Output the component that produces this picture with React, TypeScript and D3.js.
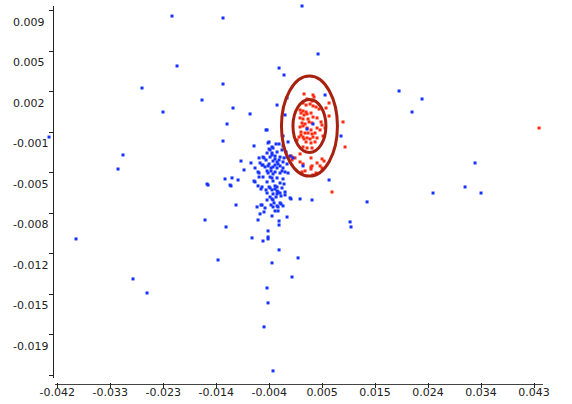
import React, { useEffect, useRef } from "react";
import * as d3 from "d3";

// tick values and labels
const xTickValues = [-0.0423, -0.03282, -0.02334, -0.01386, -0.00438, 0.0051, 0.01458, 0.02406, 0.03354, 0.04302];
const xTickLabels = ["-0.042", "-0.033", "-0.023", "-0.014", "-0.004", "0.005", "0.015", "0.024", "0.034", "0.043"];
const yTickValues = [0.0092, 0.00565, 0.0021, -0.00145, -0.005, -0.00855, -0.0121, -0.01565, -0.0192, -0.02275];
const yTickLabels = ["0.009", "0.005", "0.002", "-0.001", "-0.005", "-0.008", "-0.012", "-0.015", "-0.019", ""];

// blue sample
const bluePoints: [number, number][] = [
  [-0.02177, 0.00867], [-0.01264, 0.0085], [-0.02087, 0.0043], [-0.02714, 0.00237], [-0.02338, 0.00027],
  [-0.01264, 0.00272], [-0.0164, 0.00132], [-0.01085, 0.00062], [-0.0078, 0.0001], [-0.01192, -0.00078],
  [-0.01264, -0.00227], [-0.00494, -0.0013], [-0.00261, 0.00412], [-0.00172, 0.00351], [-0.00118, 0.0015],
  [-0.00297, 0.00088], [-0.00154, 0.00001], [-0.04378, -0.00192], [-0.03054, -0.00349], [-0.03143, -0.00472],
  [-0.0155, -0.00603], [-0.01228, -0.00559], [-0.01103, -0.0055], [-0.00995, -0.00568], [-0.00942, -0.00402],
  [-0.00888, -0.0048], [-0.00763, -0.00419], [-0.00709, -0.0027], [-0.00709, -0.00577], [-0.00637, -0.0062],
  [-0.00619, -0.00375], [-0.00566, -0.00437], [0.0015, 0.00955], [0.00437, 0.00535], [0.01887, 0.00211],
  [0.02298, 0.00141], [0.02119, 0.00027], [0.00562, 0.00176], [0.00848, -0.00183], [0.0024, -0.00122],
  [0.00347, -0.00078], [0.00168, -0.00445], [0.00634, -0.00568], [0.00329, -0.00743], [0.01314, -0.0076],
  [0.0101, -0.00935], [0.01027, -0.00979], [0.03247, -0.00419], [0.02495, -0.00682], [0.03068, -0.00629],
  [0.03354, -0.00682], [-0.03895, -0.01084], [-0.02875, -0.01434], [-0.02624, -0.01557], [-0.01532, -0.00612],
  [-0.01121, -0.0062], [-0.01031, -0.00787], [-0.01586, -0.00918], [-0.0121, -0.00979], [-0.01353, -0.01268],
  [-0.00745, -0.01075], [-0.00637, -0.00918], [-0.00548, -0.01102], [-0.00458, -0.01014], [-0.00458, -0.01067],
  [-0.00458, -0.01084], [-0.00261, -0.0118], [0.00079, -0.0125], [-0.00029, -0.01417], [-0.00387, -0.01294],
  [-0.00476, -0.01513], [-0.00458, -0.01644], [-0.0053, -0.01854], [-0.00369, -0.02239], [-0.00118, -0.00892],
  [-0.00261, -0.00927], [-0.00261, -0.00962], [-0.00387, -0.00883], [-0.00655, -0.00804], [-0.00601, -0.00865],
  [-0.00584, -0.00787], [-0.00512, -0.00813], [-0.00405, -0.00787], [-0.00369, -0.00804], [-0.00297, -0.00795],
  [-0.00226, -0.00778], [-0.0019, -0.00795], [0.00115, -0.00734], [-0.00476, -0.0013], [-0.0019, -0.00183],
  [-0.00047, -0.00734], [-0.0053, -0.00848], [-0.00333, -0.00839], [-0.00279, -0.00839], [-0.00064, -0.00725],
  [-0.001, -0.00235], [-0.00011, -0.00375],
  // dense core
  [-0.00458, -0.00244], [-0.00315, -0.00253], [-0.00261, -0.00253], [-0.00387, -0.00279], [-0.00369, -0.00288],
  [-0.0044, -0.00297], [-0.00208, -0.00305], [-0.00297, -0.00323], [-0.00136, -0.00323], [-0.00476, -0.00332],
  [-0.00387, -0.00332], [-0.00333, -0.00358], [-0.00422, -0.00367], [-0.00548, -0.00367], [-0.00243, -0.00367],
  [-0.00118, -0.00367], [-0.00064, -0.00358], [-0.00494, -0.00393], [-0.00369, -0.00402], [-0.00297, -0.0041],
  [-0.0019, -0.0041], [-0.00601, -0.00419], [-0.0044, -0.00428], [-0.00333, -0.00437], [-0.00243, -0.00445],
  [-0.00118, -0.00428], [-0.00512, -0.00454], [-0.00405, -0.00463], [-0.00297, -0.00463], [-0.0019, -0.00463],
  [-0.00333, -0.00498], [-0.00243, -0.00507], [-0.00154, -0.00498], [-0.001, -0.00507], [-0.00619, -0.00507],
  [-0.00458, -0.00507], [-0.00369, -0.00515], [-0.00548, -0.00542], [-0.00422, -0.00542], [-0.00297, -0.0055],
  [-0.0019, -0.00559], [-0.00476, -0.00585], [-0.00369, -0.00577], [-0.00243, -0.00594], [-0.00172, -0.00603],
  [-0.00566, -0.00629], [-0.0044, -0.00629], [-0.00333, -0.0062], [-0.00584, -0.00647], [-0.00494, -0.00655],
  [-0.00387, -0.00655], [-0.00297, -0.00664], [-0.00208, -0.00638], [-0.00476, -0.00682], [-0.00369, -0.0069],
  [-0.00243, -0.00682], [-0.00154, -0.00673], [-0.00422, -0.00717], [-0.00315, -0.00717], [-0.00226, -0.00708],
  [-0.00476, -0.00743], [-0.00387, -0.00734], [-0.00351, -0.00769], [-0.00243, -0.00769], [-0.0044, -0.00235],
  [-0.00422, -0.00305], [-0.0019, -0.0027], [-0.00387, -0.00349], [-0.0053, -0.00375], [-0.00333, -0.00384],
  [-0.00261, -0.00393], [-0.00172, -0.00375], [-0.00548, -0.00437], [-0.00458, -0.00445], [-0.00369, -0.00454],
  [-0.00279, -0.00428], [-0.00691, -0.00463], [-0.00637, -0.00498], [-0.00476, -0.00489], [-0.00405, -0.00489],
  [-0.00208, -0.00489], [-0.00387, -0.0055], [-0.00691, -0.00585], [-0.00619, -0.00542], [-0.00422, -0.00638],
  [-0.00297, -0.00629], [-0.01138, -0.00612], [-0.00333, -0.00647], [-0.00279, -0.00673], [-0.00154, -0.00699],
  [-0.00297, -0.0069], [-0.00369, -0.00743], [-0.00566, -0.00787], [-0.00279, -0.00804],
];

// red sample
const redPoints: [number, number][] = [
  [0.00186, 0.00185], [0.00347, 0.00176], [0.00365, 0.00158], [0.0024, 0.00141], [0.00329, 0.00123],
  [0.00168, 0.00106], [0.00222, 0.00088], [0.00294, 0.00097], [0.00347, 0.0008], [0.00401, 0.00071],
  [0.00634, 0.00106], [0.0058, 0.00062], [0.00455, 0.00053], [0.00115, 0.00045], [0.00168, 0.00036],
  [0.00222, 0.00027], [0.00132, 0.00018], [0.00186, 0.00001], [0.0024, 0.0001], [0.00311, 0.00018],
  [0.00347, -0.00017], [0.00419, -0.00025], [0.00115, -0.00025], [0.00168, -0.00034], [0.00258, -0.00034],
  [0.00276, -0.0006], [0.0015, -0.00069], [0.00204, -0.00078], [0.00329, -0.00069], [0.0049, -0.0006],
  [0.00508, -0.00087], [0.00115, -0.00104], [0.00168, -0.00095], [0.0024, -0.00113], [0.00311, -0.0013],
  [0.00419, -0.00113], [0.00473, -0.0013], [0.00132, -0.00148], [0.00204, -0.00157], [0.00258, -0.00157],
  [0.00329, -0.00165], [0.00383, -0.00157], [0.00168, -0.00192], [0.0024, -0.002], [0.00347, -0.00192],
  [0.00419, -0.002], [0.00526, -0.00183], [0.00186, -0.00209], [0.00294, -0.00209], [0.00634, -0.00008],
  [0.00562, -0.00113], [0.00884, -0.0006], [0.00097, -0.00192], [0.00061, -0.00218], [0.00222, -0.00235],
  [0.00311, -0.00244], [0.00383, -0.00235], [0.00168, -0.00279], [0.0024, -0.00288], [0.00329, -0.00288],
  [0.0092, -0.00279], [-0.00029, -0.00367], [0.00025, -0.00375], [0.00311, -0.00375], [0.00115, -0.0041],
  [0.00168, -0.00428], [0.00508, -0.00384], [0.00544, -0.00402], [0.00419, -0.00419], [0.00311, -0.00454],
  [0.00311, -0.00472], [0.0015, -0.00498], [0.00204, -0.00489], [0.00401, -0.00507], [0.00508, -0.00463],
  [0.00347, -0.00524], [0.00687, -0.00673], [0.04393, -0.00113], [0.00132, -0.00174], [0.00115, -0.0034],
  [0.00329, -0.00445], [0.00473, -0.00445], [-0.00047, -0.00358], [-0.00029, -0.00393],
];

// confidence ellipses around the red group: [cx, cy, rx, ry]
const ellipses: [number, number, number, number][] = [
  [0.00283, -0.00096, 0.00501, 0.00438],
  [0.00283, -0.00096, 0.00295, 0.00232],
];

const W = 572;
const H = 404;

export default function App() {
  const svgRef = useRef<SVGSVGElement>(null);

  useEffect(() => {
    const svg = d3.select(svgRef.current);
    svg.selectAll("*").remove();

    const x = d3.scaleLinear()
      .domain([xTickValues[0], xTickValues[xTickValues.length - 1]])
      .range([57.3, 534]);
    const y = d3.scaleLinear()
      .domain([yTickValues[0], yTickValues[yTickValues.length - 1]])
      .range([10, 375]);

    const font = "'DejaVu Sans', sans-serif";

    // y axis
    const yAxis = svg.append("g");
    yAxis.append("line")
      .attr("x1", 53.5).attr("x2", 53.5).attr("y1", 6).attr("y2", 378)
      .attr("stroke", "#222").attr("stroke-width", 1);
    yTickValues.forEach((v, i) => {
      const py = Math.round(y(v)) + 0.5;
      yAxis.append("line")
        .attr("x1", 49).attr("x2", 53.5).attr("y1", py).attr("y2", py)
        .attr("stroke", "#222");
      if (yTickLabels[i]) {
        yAxis.append("text")
          .attr("x", 13).attr("y", y(v) + 15.5)
          .attr("font-family", font).attr("font-size", 11).attr("fill", "#222")
          .text(yTickLabels[i]);
      }
    });

    // x axis
    const xAxis = svg.append("g");
    xAxis.append("line")
      .attr("x1", 55).attr("x2", 543).attr("y1", 384.5).attr("y2", 384.5)
      .attr("stroke", "#444").attr("stroke-width", 1);
    xTickValues.forEach((v, i) => {
      const px = Math.round(x(v)) + 0.5;
      xAxis.append("line")
        .attr("x1", px).attr("x2", px).attr("y1", 383).attr("y2", 388)
        .attr("stroke", "#222");
      xAxis.append("text")
        .attr("x", x(v)).attr("y", 396)
        .attr("text-anchor", "middle")
        .attr("font-family", font).attr("font-size", 11).attr("fill", "#222")
        .text(xTickLabels[i]);
    });

    // points: red first, blue on top
    const s = 3;
    svg.append("g").selectAll("rect")
      .data(redPoints)
      .enter().append("rect")
      .attr("x", d => x(d[0]) - s / 2).attr("y", d => y(d[1]) - s / 2)
      .attr("width", s).attr("height", s)
      .attr("fill", "#ff2a10");

    svg.append("g").selectAll("rect")
      .data(bluePoints)
      .enter().append("rect")
      .attr("x", d => x(d[0]) - s / 2).attr("y", d => y(d[1]) - s / 2)
      .attr("width", s).attr("height", s)
      .attr("fill", "#1533ff");

    // ellipses
    svg.append("g").selectAll("ellipse")
      .data(ellipses)
      .enter().append("ellipse")
      .attr("cx", d => x(d[0])).attr("cy", d => y(d[1]))
      .attr("rx", d => x(d[0] + d[2]) - x(d[0]))
      .attr("ry", d => y(d[1] - d[3]) - y(d[1]))
      .attr("fill", "none")
      .attr("stroke", "#a8200e")
      .attr("stroke-width", 3);
  }, []);

  return (
    <svg
      ref={svgRef}
      width={W}
      height={H}
      style={{ position: "absolute", left: 0, top: 0, background: "#fff", display: "block" }}
    />
  );
}
